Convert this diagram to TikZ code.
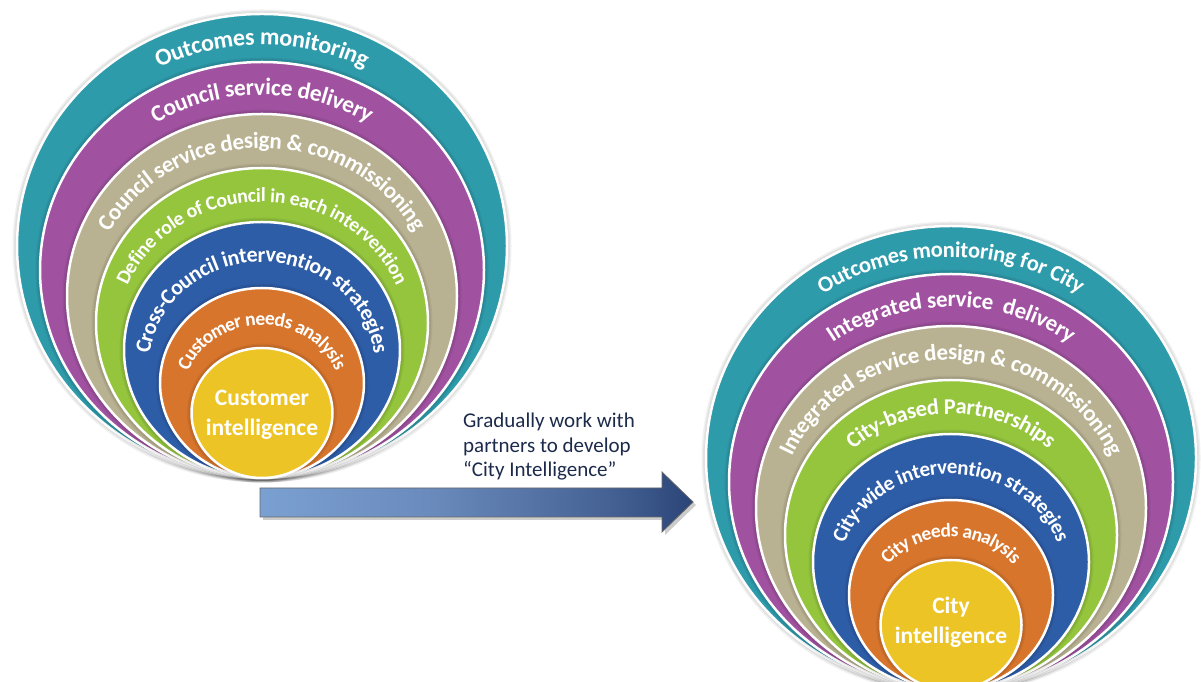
\documentclass[tikz,border=0pt]{standalone}
\usepackage{fontspec}
\setmainfont{Carlito}
\usepackage{tikz}
\usetikzlibrary{decorations.text}

\definecolor{ringteal}{RGB}{46,155,171}
\definecolor{ringpurple}{RGB}{160,82,160}
\definecolor{ringkhaki}{RGB}{185,178,146}
\definecolor{ringgreen}{RGB}{148,197,61}
\definecolor{ringblue}{RGB}{46,93,168}
\definecolor{ringorange}{RGB}{216,117,44}
\definecolor{ringyellow}{RGB}{237,196,38}
\definecolor{notecol}{RGB}{28,42,75}
\definecolor{afade0}{RGB}{134,175,222}
\definecolor{afade1}{RGB}{126,166,214}
\definecolor{afade2}{RGB}{106,138,188}
\definecolor{afade3}{RGB}{70,98,148}
\definecolor{afade4}{RGB}{24,48,100}
\definecolor{afade5}{RGB}{13,25,70}
\pgfdeclarehorizontalshading{arrowfade}{100bp}{color(0bp)=(afade0); color(20bp)=(afade1);
  color(45bp)=(afade2); color(65bp)=(afade3); color(82bp)=(afade4); color(100bp)=(afade5)}

\tikzset{
  coretext/.style={text=white, align=center, inner sep=0pt, font=\fontsize{23.5}{30}\selectfont\bfseries},
  notetext/.style={text=notecol, align=left, inner sep=0pt, font=\fontsize{21}{24.5}\selectfont},
}

\newcommand{\rings}{%
  \foreach \rx/\ry/\col in {245/232/ringteal,222/208/ringpurple,195/182/ringkhaki,166/155/ringgreen,
    138/128/ringblue,102/95/ringorange,70.5/65/ringyellow}{
    \foreach \k in {1,2,3}
      \fill[black,opacity=0.06] (0,\ry) ellipse[x radius=\rx+1.5*\k, y radius=\ry+1.5*\k];
    \fill[\col,draw=white,line width=2.5pt] (0,\ry) ellipse[x radius=\rx, y radius=\ry];
  }}
\newcommand{\ringtext}[4]{%
  \path[decorate,decoration={text along path,text align=center,raise=-7pt,text color=white,
    text={|\fontsize{#3}{#3}\selectfont\bfseries|#4}}]
    ([shift={(0,#2)}]178:#1 and #2) arc[start angle=178,end angle=2,x radius=#1,y radius=#2];}

\begin{document}
\begin{tikzpicture}[x=1pt,y=1pt]
\useasboundingbox (0,0) rectangle (1201,682);
\clip (0,0) rectangle (1201,682);

\begin{scope}[shift={(262,204)}]
\rings
\ringtext{233.5}{220}{24}{Outcomes monitoring}
\ringtext{208.5}{195}{23.5}{Council service delivery}
\ringtext{180.5}{168.5}{23}{Council service design {\&} commissioning}
\ringtext{152}{141.5}{20}{Define role of Council in each intervention}
\ringtext{120}{111.5}{22}{Cross-Council intervention strategies}
\ringtext{86.25}{80}{19.5}{Customer needs analysis}
\node[coretext] (lcore) at (0,63) {Customer\\intelligence};
\end{scope}

\begin{scope}[shift={(951,-8)}]
\rings
\ringtext{233.5}{220}{22.5}{Outcomes monitoring for City}
\ringtext{208.5}{195}{23}{Integrated service {\ }delivery}
\ringtext{180.5}{168.5}{23}{Integrated service design {\&} commissioning}
\ringtext{152}{141.5}{22.5}{City-based Partnerships}
\ringtext{120}{111.5}{21}{City-wide intervention strategies}
\ringtext{86.25}{80}{19.5}{City needs analysis}
\node[coretext] (rcore) at (0,68) {City\\intelligence};
\end{scope}

\fill[black,opacity=0.2] (263,162) -- (665,162) -- (665,147) -- (696,177) -- (665,207) -- (665,191) -- (263,191) -- cycle;
\draw[gray!80!black,line width=0.8pt,shading=arrowfade] (260,165) -- (662,165) -- (662,150) -- (693,180)
  -- (662,210) -- (662,194) -- (260,194) -- cycle;
\node[notetext,anchor=north west] (note) at (463,269) {Gradually work with\\partners to develop\\“City Intelligence”};
\end{tikzpicture}
\end{document}
